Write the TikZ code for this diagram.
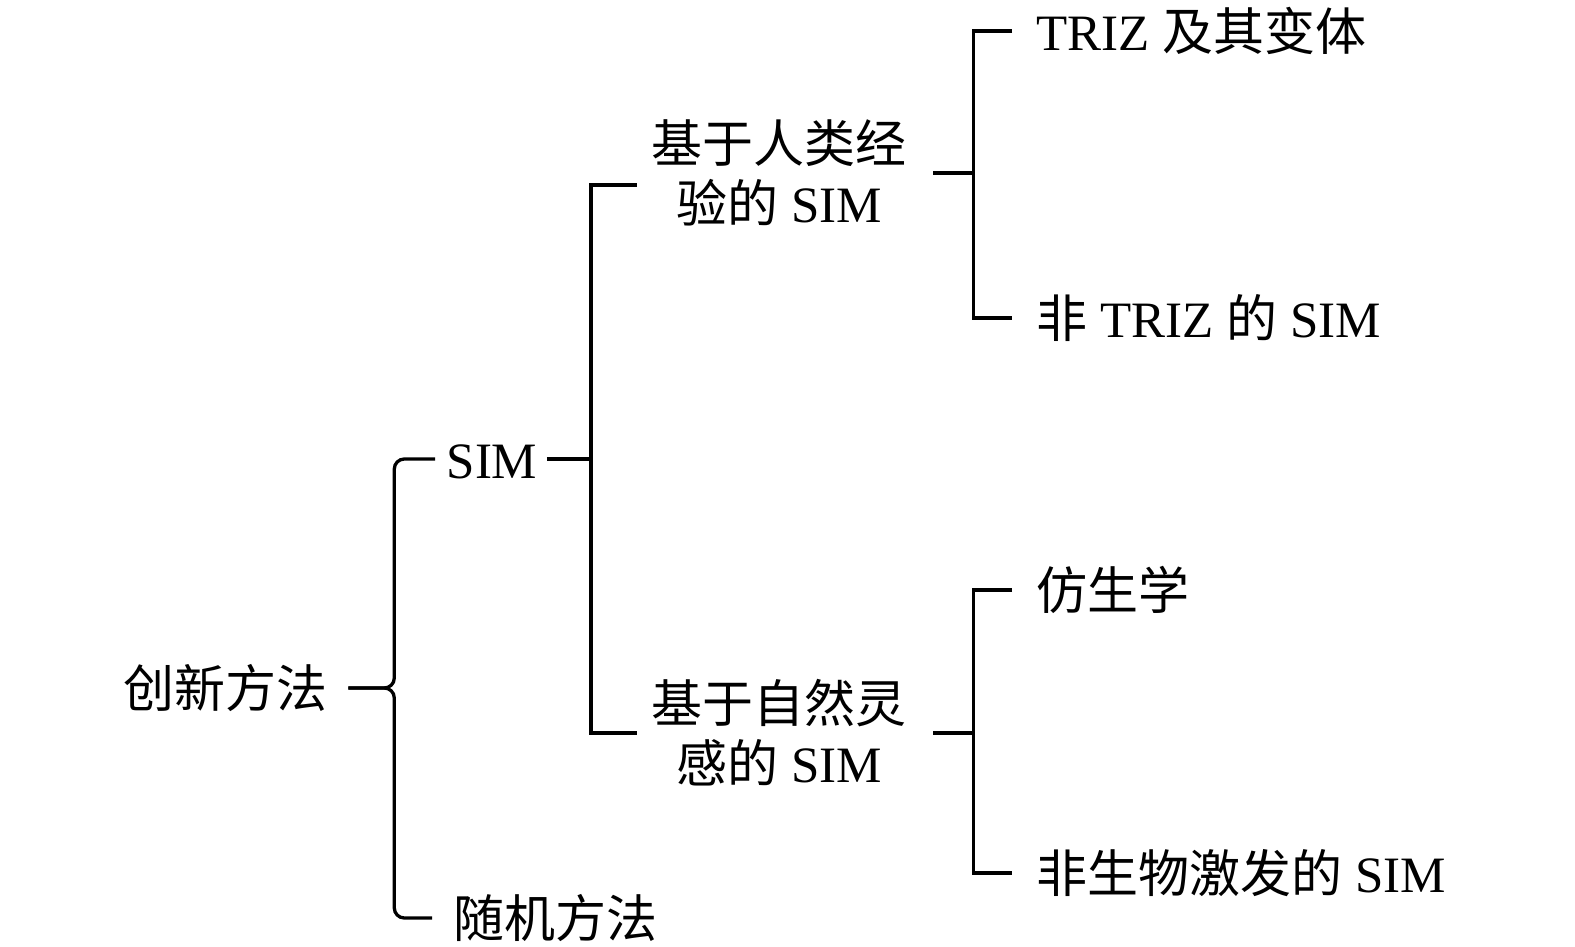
\documentclass[tikz,border=0pt]{standalone}
\usepackage{fontspec}
\setmainfont{Liberation Serif}
\newfontfamily\cjk{Noto Sans CJK SC}
\usetikzlibrary{positioning,calc}
\tikzset{every picture/.style={line width=3.3pt}}
\tikzset{
  item/.style={inner sep=0pt, anchor=west, font=\fontsize{51}{60}\selectfont, text height=45pt, text depth=6pt},
  group/.style={inner sep=0pt, align=center, font=\fontsize{51}{60}\selectfont},
  brace/.style={rounded corners=10pt}
}

\begin{document}
\begin{tikzpicture}[x=1pt,y=-1pt]
    \useasboundingbox (0,0) rectangle (1575,947);

    % Root and first level
    \node[item] (root) at (122,688) {\cjk 创新方法};
    \node[item] (sim) at (445,459) {SIM};
    \node[item] (rand) at (452,918) {\cjk 随机方法};

    % Second level
    \node[group] (human) at (779,173) {{\cjk 基于人类经}\\{\cjk 验的} SIM};
    \node[group] (nature) at (779,733) {{\cjk 基于自然灵}\\{\cjk 感的} SIM};

    % Leaves
    \node[item] (triz) at (1035,31) {TRIZ {\cjk 及其变体}};
    \node[item] (nontriz) at (1035,318) {{\cjk 非} TRIZ {\cjk 的} SIM};
    \node[item] (bionic) at (1035,590) {\cjk 仿生学};
    \node[item] (nonbio) at (1035,873) {{\cjk 非生物激发的} SIM};

    % Brace root -> SIM / random
    \coordinate (tip) at ([xshift=19pt]root.east);
    \draw[brace] ([xshift=-10pt]sim.west) -| ([xshift=46pt]tip) -- (tip);
    \draw[brace] ([xshift=-20pt]rand.west) -| ([xshift=46pt]tip) -- (tip);

    % SIM -> human / nature
    \draw ([xshift=8pt]sim.east) -- ++(44,0) coordinate (b2);
    \draw ([xshift=-13pt,yshift=-12pt]human.west) -| (b2) |- ([xshift=-13pt]nature.west);

    % human -> TRIZ / non-TRIZ
    \draw ([xshift=25pt]human.east) -- ++(40,0) coordinate (b3);
    \draw ([xshift=-23pt]triz.west) -| (b3) |- ([xshift=-23pt]nontriz.west);

    % nature -> bionics / non-bio
    \draw ([xshift=25pt]nature.east) -- ++(40,0) coordinate (b4);
    \draw ([xshift=-23pt]bionic.west) -| (b4) |- ([xshift=-23pt]nonbio.west);
\end{tikzpicture}
\end{document}
